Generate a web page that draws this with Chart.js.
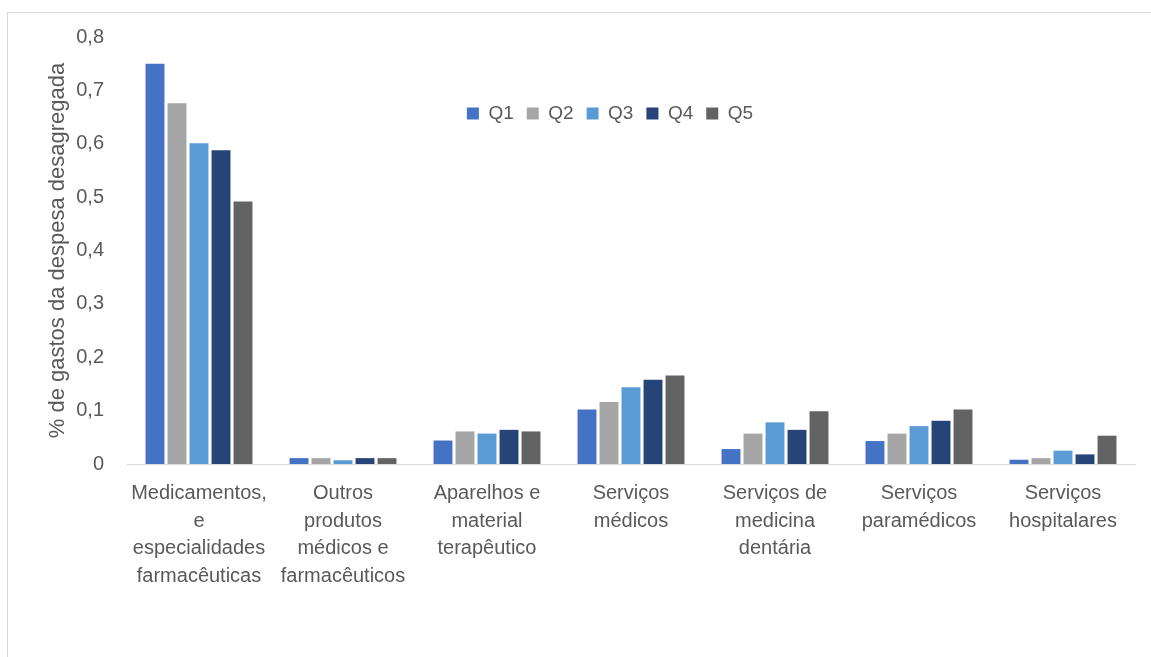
<!DOCTYPE html>
<html lang="pt">
<head>
<meta charset="utf-8">
<title>Despesa em saúde por quintil</title>
<script src="https://cdn.jsdelivr.net/npm/chart.js@4.4.1/dist/chart.umd.min.js"></script>
<style>
  html, body { margin: 0; padding: 0; background: #ffffff; }
  body { width: 1151px; height: 657px; position: relative; overflow: hidden; }
  #frame {
    position: absolute; left: 7px; top: 12px; width: 1200px; height: 700px;
    border: 1px solid #d9d9d9; box-sizing: border-box;
  }
  #chart { position: absolute; left: 0; top: 0; }
</style>
</head>
<body>
<div id="frame"></div>
<canvas id="chart" width="1151" height="657"></canvas>
<script>
// Categorias de despesa (rótulos em várias linhas)
const categories = [
  ["Medicamentos,", "e", "especialidades", "farmacêuticas"],
  ["Outros", "produtos", "médicos e", "farmacêuticos"],
  ["Aparelhos e", "material", "terapêutico"],
  ["Serviços", "médicos"],
  ["Serviços de", "medicina", "dentária"],
  ["Serviços", "paramédicos"],
  ["Serviços", "hospitalares"]
];

// Quintis de rendimento
const seriesNames = ["Q1", "Q2", "Q3", "Q4", "Q5"];
const q1 = [0.750, 0.011, 0.044, 0.102, 0.028, 0.043, 0.008];
const q2 = [0.676, 0.011, 0.061, 0.116, 0.057, 0.057, 0.011];
const q3 = [0.601, 0.007, 0.057, 0.144, 0.078, 0.071, 0.025];
const q4 = [0.588, 0.011, 0.064, 0.158, 0.064, 0.081, 0.018];
const q5 = [0.492, 0.011, 0.061, 0.166, 0.099, 0.102, 0.053];

// Rótulos do eixo vertical (0 a 0,8)
const yTickLabels = ["0", "0,1", "0,2", "0,3", "0,4", "0,5", "0,6", "0,7", "0,8"];

const colors = ["#4472C4", "#A5A5A5", "#5B9BD5", "#264478", "#636363"];
const values = [q1, q2, q3, q4, q5];

const textColor = "#595959";
const fontFamily = "'Liberation Sans', Arial, sans-serif";

// Legenda horizontal desenhada dentro da área do gráfico
const legendInside = {
  id: "legendInside",
  beforeLayout(chart) {
    if (chart.legend) chart.legend.isHorizontal = () => true;
  },
  afterLayout(chart) {
    const lg = chart.legend;
    const area = chart.chartArea;
    const dx = -21, dy = 54;
    lg.left = area.left + dx;
    lg.right = lg.left + area.width;
    lg.width = area.width;
    lg.top = area.top + dy;
    lg.bottom = lg.top + lg.height;
  }
};

new Chart(document.getElementById("chart"), {
  type: "bar",
  data: {
    labels: categories,
    datasets: seriesNames.map((name, i) => ({
      label: name,
      data: values[i],
      backgroundColor: colors[i],
      borderWidth: 0,
      categoryPercentage: 0.764,
      barPercentage: 0.86
    }))
  },
  options: {
    responsive: false,
    animation: false,
    devicePixelRatio: 1,
    layout: { padding: { left: 0, right: 16, top: 37, bottom: 0 } },
    plugins: {
      tooltip: { enabled: false },
      legend: {
        position: "chartArea",
        align: "center",
        labels: {
          color: textColor,
          font: { family: fontFamily, size: 19 },
          boxWidth: 12,
          boxHeight: 12,
          padding: 13
        }
      }
    },
    scales: {
      x: {
        grid: { display: false, drawTicks: false },
        border: { display: true, color: "#d9d9d9", width: 1 },
        ticks: {
          color: textColor,
          font: { family: fontFamily, size: 20, lineHeight: 1.375 },
          padding: 16,
          maxRotation: 0,
          autoSkip: false
        },
        afterFit(scale) { scale.height = 193; }
      },
      y: {
        min: 0,
        max: 0.8,
        grid: { display: false, drawTicks: false },
        border: { display: false },
        ticks: {
          stepSize: 0.1,
          color: textColor,
          font: { family: fontFamily, size: 20 },
          padding: 23,
          callback: (v, i) => yTickLabels[i]
        },
        title: {
          display: true,
          text: "% de gastos da despesa desagregada",
          color: textColor,
          font: { family: fontFamily, size: 22 },
          padding: { top: 45, bottom: 0 }
        },
        afterFit(scale) { scale.width = 127; }
      }
    }
  },
  plugins: [legendInside]
});
</script>
</body>
</html>
